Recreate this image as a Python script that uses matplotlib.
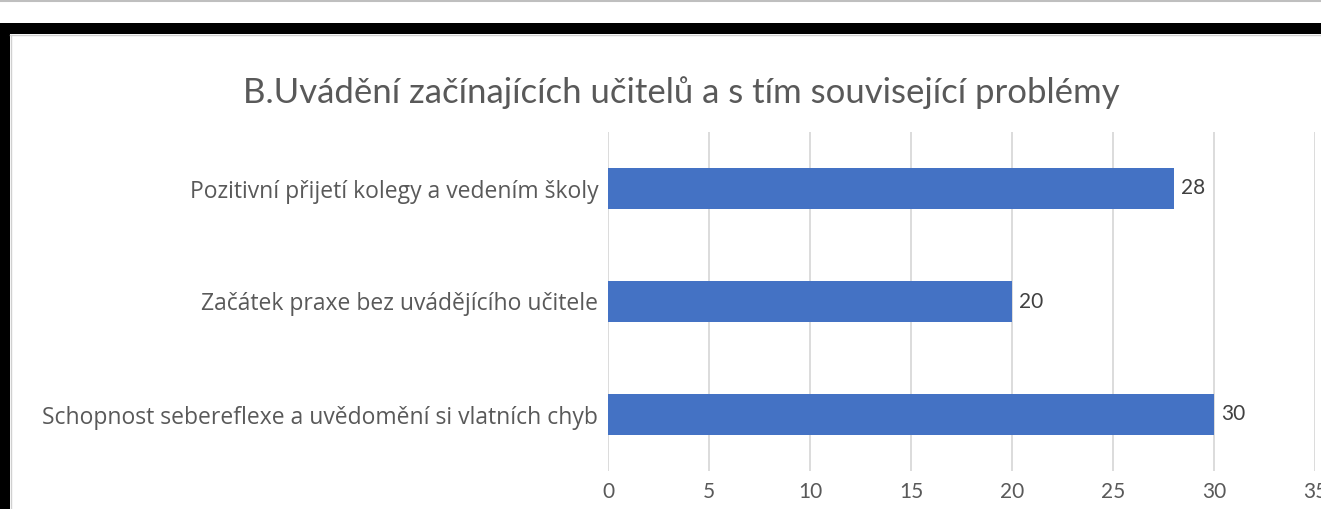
import matplotlib
matplotlib.use('Agg')
import matplotlib.pyplot as plt
from matplotlib.patches import Rectangle
from matplotlib.lines import Line2D

# Chart data
categories = ['Schopnost sebereflexe a uvědomění si vlatních chyb',
              'Začátek praxe bez uvádějícího učitele',
              'Pozitivní přijetí kolegy a vedením školy']
values = [30, 20, 28]
x_ticks = [0, 5, 10, 15, 20, 25, 30, 35]
title = 'B.Uvádění začínajících učitelů a s tím související problémy'

plt.rcParams['font.family'] = ['Lato', 'DejaVu Sans']

W, H = 1321, 509
fig = plt.figure(figsize=(W / 100, H / 100), dpi=100)
fig.patch.set_facecolor('white')

# plot area in pixels: x 608..1315, y 132..471 (from top)
ax = fig.add_axes([608 / W, 1 - 471 / H, (1315 - 608) / W, (471 - 132) / H])
ypos = list(range(len(categories)))
bars = ax.barh(ypos, values, height=0.355, color='#4472C4', zorder=3)
ax.set_xlim(0, 35)
ax.set_ylim(-0.5, len(categories) - 0.5)
ax.set_xticks(x_ticks)
ax.set_xticklabels([str(t) for t in x_ticks])
ax.set_yticks(ypos)
ax.set_yticklabels(categories, fontfamily=['Open Sans', 'DejaVu Sans'], fontsize=16.5)
ax.grid(axis='x', color='#D9D9D9', linewidth=1.3, zorder=0)
for s in ax.spines.values():
    s.set_visible(False)
ax.tick_params(axis='both', length=0, colors='#595959')
ax.tick_params(axis='x', labelsize=15, pad=8)
ax.tick_params(axis='y', pad=7)
for b, v in zip(bars, values):
    ax.text(b.get_width() + 0.35, b.get_y() + b.get_height() / 2, str(v),
            va='center', ha='left', fontsize=15, color='#404040')

fig.text(681 / W, 1 - 93 / H, title, ha='center', va='center',
         fontsize=25, color='#595959')

# frame around the chart (black border, grey line at very top)
fig.add_artist(Line2D([0, 1], [1 - 1 / H, 1 - 1 / H], color='#BFBFBF', linewidth=1.5))
fig.add_artist(Rectangle((0, 0), 10 / W, 1 - 23 / H, transform=fig.transFigure,
                         facecolor='black', edgecolor='none'))
fig.add_artist(Rectangle((0, 1 - 34 / H), 1, 11 / H, transform=fig.transFigure,
                         facecolor='black', edgecolor='none'))
fig.add_artist(Line2D([10 / W, 1], [1 - 35 / H, 1 - 35 / H], color='#D0D0D0', linewidth=1))
fig.add_artist(Line2D([11 / W, 11 / W], [0, 1 - 35 / H], color='#D0D0D0', linewidth=1))

fig.savefig('out.png', dpi=100)
